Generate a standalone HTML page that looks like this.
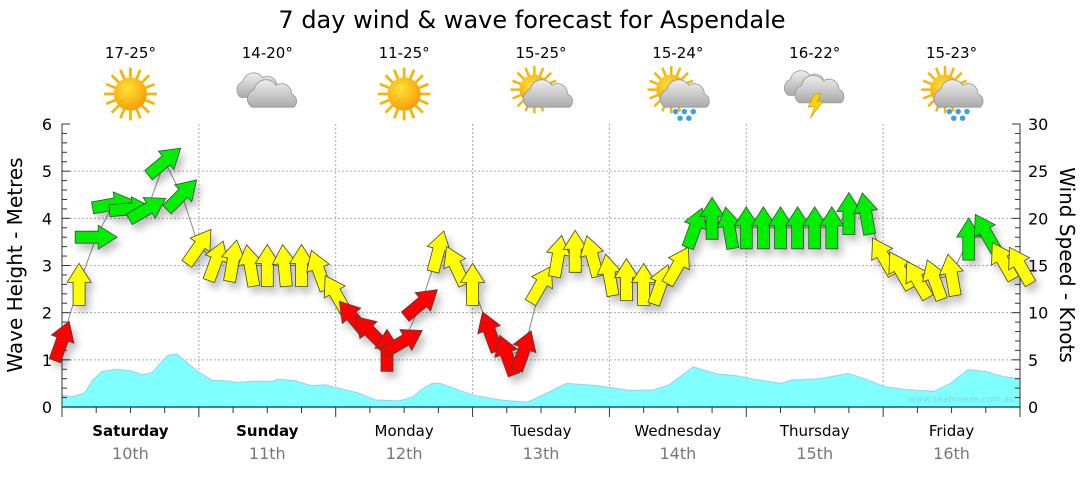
<!DOCTYPE html>
<html><head><meta charset="utf-8"><style>
body{margin:0;background:#fff;width:1080px;height:475px;overflow:hidden;font-family:"DejaVu Sans","Liberation Sans",sans-serif}
svg text{font-family:"DejaVu Sans","Liberation Sans",sans-serif}
</style></head><body>
<svg id="c" width="1080" height="475" viewBox="0 0 1080 475" xmlns="http://www.w3.org/2000/svg">
<defs>
<radialGradient id="sunG" cx="0.4" cy="0.35" r="0.7"><stop offset="0" stop-color="#ffe23a"/><stop offset="1" stop-color="#f59a00"/></radialGradient>
<linearGradient id="cloudG" x1="0" y1="0" x2="0" y2="1"><stop offset="0" stop-color="#eee"/><stop offset="1" stop-color="#aaa"/></linearGradient>
<filter id="sh" x="-50%" y="-50%" width="200%" height="200%"><feGaussianBlur in="SourceAlpha" stdDeviation="4"/><feOffset dx="4" dy="6"/><feComponentTransfer><feFuncA type="linear" slope="0.25"/></feComponentTransfer><feMerge><feMergeNode/><feMergeNode in="SourceGraphic"/></feMerge></filter>
<g id="sun"><g stroke="#f7b500" stroke-width="2.5"><line x1="0" y1="-24" x2="0" y2="24"/><line x1="-24" y1="0" x2="24" y2="0"/><line x1="-17" y1="-17" x2="17" y2="17"/><line x1="-17" y1="17" x2="17" y2="-17"/><line x1="-9" y1="-22" x2="9" y2="22"/><line x1="-22" y1="-9" x2="22" y2="9"/><line x1="-9" y1="22" x2="9" y2="-22"/><line x1="-22" y1="9" x2="22" y2="-9"/></g><circle r="15" fill="url(#sunG)"/></g>
<g id="cloud"><path d="M-20,8 a9,9 0 0 1 2,-16 a11,11 0 0 1 20,-4 a9,9 0 0 1 14,8 a7,7 0 0 1 2,12 z" fill="url(#cloudG)" stroke="#999" stroke-width="0.8"/></g>
</defs>
<text x="532" y="28" text-anchor="middle" font-size="24" fill="#000">7 day wind &amp; wave forecast for Aspendale</text>
<g id="grid"></g><g id="swell"></g><g id="axes"></g><g id="wline"></g><g id="arrows" filter="url(#sh)"></g><g id="wx"></g>
<text x="1015" y="402" text-anchor="end" font-size="9" fill="#7fd8d8">www.seabreeze.com.au</text>
<text transform="translate(22,265) rotate(-90)" text-anchor="middle" font-size="20">Wave Height - Metres</text>
<text transform="translate(1060,265) rotate(90)" text-anchor="middle" font-size="20">Wind Speed - Knots</text>
</svg>
<script>
const days=["Saturday","Sunday","Monday","Tuesday","Wednesday","Thursday","Friday"];
const dates=["10th","11th","12th","13th","14th","15th","16th"];
const boldDays=[true,true,false,false,false,false,false];
const temps=["17-25°","14-20°","11-25°","15-25°","15-24°","16-22°","15-23°"];
const icons=["sun","cloud2","sun","suncloud","sunrain","storm","suncloudrain"];
const waveTicks=[0,1,2,3,4,5,6];
const windTicks=[0,5,10,15,20,25,30];
// wind: every 3 hours
const windSpeed=[7,13,18,21.5,21,21,26,22.5,17,15.5,15.5,15,15,15,15,14.5,12,9.5,8,6,7,11,16.5,15,13,8,5.5,6,13,16,16.5,16,14,13.5,13,13,15,19,20,19,19,19,19,19,19,19,20.5,20.5,16,14.5,13.5,13.5,14,17.8,18.5,15.5,15];
const windDir=[20,0,90,80,85,60,50,45,35,20,10,-10,0,-5,0,-20,-30,-40,-45,0,60,50,15,-25,0,-20,-20,20,30,10,0,-15,-10,0,0,20,30,20,0,-10,0,0,0,0,0,0,0,-10,-30,-30,-30,-20,-10,0,-30,-30,-30];
const swellHours=[0,2,4,5.4,7,9.6,11.9,14.2,15.8,18.6,20.2,23.6,26.2,29.3,30.6,34.1,36.9,37.8,40.8,43.8,46.1,48.4,51.9,54.9,59,61.4,63.1,64.9,66.3,72.1,76.8,81.5,82.9,88.5,94,99.5,103.7,106.5,110.7,114.9,118.4,121.7,126.1,127.9,132.8,137.9,140.9,144.3,147.8,152.9,155.8,158.9,162,165.3,168];
const swellH=[0.25,0.22,0.3,0.57,0.75,0.8,0.77,0.68,0.73,1.1,1.12,0.77,0.57,0.55,0.52,0.55,0.54,0.59,0.56,0.45,0.47,0.4,0.3,0.15,0.13,0.2,0.38,0.5,0.5,0.25,0.15,0.1,0.17,0.5,0.45,0.35,0.36,0.47,0.85,0.7,0.66,0.58,0.5,0.57,0.6,0.71,0.59,0.43,0.37,0.33,0.5,0.79,0.75,0.64,0.6];
const NS="http://www.w3.org/2000/svg";
const X0=62,X1=1020,Y0=407,Y1=124;
const xH=h=>X0+h/168*(X1-X0);
const yW=w=>Y0-w/6*(Y0-Y1);
const yK=k=>Y0-k/30*(Y0-Y1);
function mk(tag,attrs,parent){const e=document.createElementNS(NS,tag);for(const k in attrs)e.setAttribute(k,attrs[k]);parent.appendChild(e);return e;}
const grid=document.getElementById('grid'),axes=document.getElementById('axes');
waveTicks.forEach(t=>{if(t>0&&t<6){const l=mk('line',{x1:X0,x2:X1,y1:yW(t),y2:yW(t),stroke:'#aaa','stroke-dasharray':'2,2'},grid);

}
const tx=mk('text',{x:X0-10,y:yW(t)+6,'text-anchor':'end','font-size':16},axes);tx.textContent=t;

});
windTicks.forEach(t=>{const tx=mk('text',{x:X1+8,y:yK(t)+6,'font-size':16},axes);tx.textContent=t;

});
for(let i=0;i<=30;i++){const y=yK(i);const L=i%5==0?8:5;
mk('line',{x1:X0,x2:X0+L,y1:y,y2:y,stroke:'#333'},axes);mk('line',{x1:X1-L,x2:X1,y1:y,y2:y,stroke:'#333'},axes);}
mk('line',{x1:X0,x2:X0,y1:Y1,y2:Y0,stroke:'#333'},axes);mk('line',{x1:X1,x2:X1,y1:Y1,y2:Y0,stroke:'#333'},axes);
mk('line',{x1:X0,x2:X1,y1:Y0,y2:Y0,stroke:'#0a5c80','stroke-width':1.5},axes);
for(let h=0;h<=168;h+=6){const x=xH(h);mk('line',{x1:x,x2:x,y1:Y0,y2:Y0+(h%24==0?10:6),stroke:'#333'},axes);
if(h%24==0&&h>0&&h<168){const l=mk('line',{x1:x,x2:x,y1:Y1,y2:Y0,stroke:'#aaa','stroke-dasharray':'2,2'},grid);

}}
days.forEach((d,i)=>{const cx=xH(i*24+12);
const t=mk('text',{x:cx,y:436,'text-anchor':'middle','font-size':15,'font-weight':boldDays[i]?'bold':'normal'},axes);t.textContent=d;


const t2=mk('text',{x:cx,y:459,'text-anchor':'middle','font-size':16,fill:'#777'},axes);t2.textContent=dates[i];

});
// swell area
let p='M'+xH(swellHours[0])+','+Y0;swellHours.forEach((h,i)=>p+=' L'+xH(h).toFixed(1)+','+yW(swellH[i]).toFixed(1));p+=' L'+xH(swellHours[swellHours.length-1])+','+Y0+' Z';
const sw=mk('path',{d:p,fill:'#80ffff',stroke:'#a0c8ff','stroke-width':1},document.getElementById('swell'));


// wind line
const pts=windSpeed.map((k,i)=>xH(i*3).toFixed(1)+','+yK(k).toFixed(1)).join(' ');
const wl=mk('polyline',{points:pts,fill:'none',stroke:'#888','stroke-width':1},document.getElementById('wline'));


const ag=document.getElementById('arrows');
const AR="M0,-21 L12,-2 L6,-2 L6,21 L-6,21 L-6,-2 L-12,-2 Z";
windSpeed.forEach((k,i)=>{const col=k<12?'#ff0000':(k<17.5?'#ffff00':'#00ee00');
const a=mk('path',{d:AR,fill:col,stroke:'#444','stroke-width':0.8,transform:`translate(${xH(i*3).toFixed(1)},${yK(k).toFixed(1)}) rotate(${windDir[i]})`},ag);

});
// weather icons
const wx=document.getElementById('wx');
temps.forEach((t,i)=>{const cx=xH(i*24+12);
const tt=mk('text',{x:cx,y:58,'text-anchor':'middle','font-size':15},wx);tt.textContent=t;


const g=mk('g',{transform:`translate(${cx},94) scale(1.1)`},wx);


const ic=icons[i];
if(ic=='sun')mk('use',{href:'#sun'},g);
if(ic=='cloud2'){mk('use',{href:'#cloud',transform:'translate(-6,-4) scale(0.9)'},g);mk('use',{href:'#cloud',transform:'translate(6,4)'},g);}
if(ic.startsWith('sun')&&ic!='sun'){mk('use',{href:'#sun',transform:'translate(-6,-4) scale(0.9)'},g);mk('use',{href:'#cloud',transform:'translate(8,4)'},g);}
if(ic=='sunrain'||ic=='suncloudrain'){[[-2,16],[6,16],[14,16],[2,22],[10,22]].forEach(d=>mk('circle',{cx:d[0],cy:d[1],r:2.5,fill:'#3aa0e0'},g));}
if(ic=='storm'){mk('use',{href:'#cloud',transform:'translate(-6,-6) scale(0.9)'},g);mk('use',{href:'#cloud',transform:'translate(6,0)'},g);
mk('path',{d:'M0,0 L-6,12 L0,11 L-4,22 L8,6 L2,7 L6,0 Z',fill:'#ffd400',stroke:'#c90',"stroke-width":0.6},g);}
});
</script>
</body></html>
